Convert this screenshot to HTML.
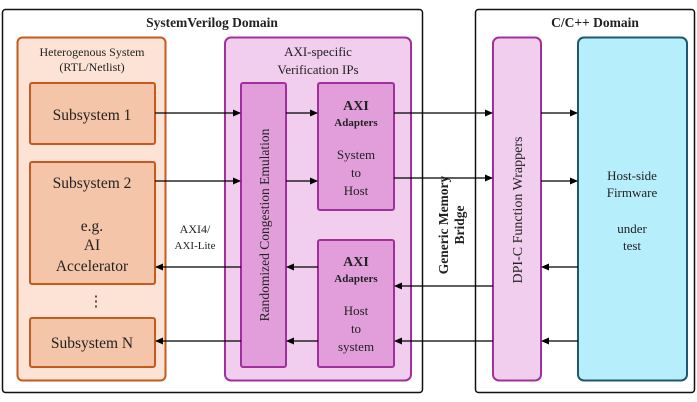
<!DOCTYPE html>
<html><head><meta charset="utf-8"><style>body{margin:0;background:#fff}svg{display:block}svg text{font-family:"Liberation Serif","DejaVu Serif",serif;fill:#222}</style></head>
<body>
<svg width="697" height="402" viewBox="0 0 697 402" xmlns="http://www.w3.org/2000/svg" font-family="Liberation Serif, DejaVu Serif, serif">
<defs><marker id="a" markerWidth="8" markerHeight="8" refX="7" refY="4" orient="auto" markerUnits="userSpaceOnUse"><path d="M0,0.5 L8,4 L0,7.5 Z" fill="#000"/></marker></defs>
<rect x="2.5" y="9.5" width="420" height="383" rx="3" fill="#fff" stroke="#111" stroke-width="1.5"/>
<rect x="475.5" y="9.5" width="219" height="383" rx="3" fill="#fff" stroke="#111" stroke-width="1.5"/>
<text x="212" y="27" font-size="13.5" font-weight="bold" text-anchor="middle">SystemVerilog Domain</text>
<text x="595" y="27" font-size="13.5" font-weight="bold" text-anchor="middle">C/C++ Domain</text>
<rect x="17.5" y="37.5" width="148" height="343" rx="5" fill="#fce3d6" stroke="#c55a1c" stroke-width="2"/>
<text x="92" y="56" font-size="12" text-anchor="middle">Heterogenous System</text>
<text x="92" y="71" font-size="12" text-anchor="middle">(RTL/Netlist)</text>
<g fill="#f5c5a9" stroke="#c55a1c" stroke-width="2">
<rect x="30" y="83" width="125" height="61" rx="2"/>
<rect x="30" y="162" width="125" height="122" rx="2"/>
<rect x="30" y="318" width="125" height="49" rx="2"/></g>
<g font-size="15.5" text-anchor="middle">
<text x="92" y="120">Subsystem 1</text>
<text x="92" y="188">Subsystem 2</text>
<text x="92" y="231">e.g.</text>
<text x="92" y="250">AI</text>
<text x="92" y="271">Accelerator</text>
<text x="92" y="348">Subsystem N</text></g>
<text x="96" y="306" font-size="15" text-anchor="middle">⋮</text>
<rect x="225" y="37.5" width="186" height="343" rx="6" fill="#f1cdee" stroke="#a2309c" stroke-width="2"/>
<text x="318" y="56" font-size="13" text-anchor="middle">AXI-specific</text>
<text x="318" y="74" font-size="13" text-anchor="middle">Verification IPs</text>
<g fill="#e29edb" stroke="#a2309c" stroke-width="2">
<rect x="241" y="83" width="45" height="284" rx="2"/>
<rect x="318" y="83" width="76" height="127" rx="2"/>
<rect x="318" y="240" width="76" height="127" rx="2"/></g>
<text transform="translate(269,225) rotate(-90)" font-size="13.5" text-anchor="middle">Randomized Congestion Emulation</text>
<g text-anchor="middle">
<text x="356" y="110" font-size="14" font-weight="bold">AXI</text>
<text x="356" y="126" font-size="11" font-weight="bold">Adapters</text>
<text x="356" y="159" font-size="13">System</text>
<text x="356" y="177" font-size="13">to</text>
<text x="356" y="195" font-size="13">Host</text>
<text x="356" y="266" font-size="14" font-weight="bold">AXI</text>
<text x="356" y="282" font-size="11" font-weight="bold">Adapters</text>
<text x="356" y="315" font-size="13">Host</text>
<text x="356" y="333" font-size="13">to</text>
<text x="356" y="351" font-size="13">system</text>
<text x="195" y="233" font-size="12">AXI4/</text>
<text x="195" y="249" font-size="11">AXI-Lite</text></g>
<rect x="493" y="37.5" width="48" height="343" rx="6" fill="#f1cdee" stroke="#a2309c" stroke-width="2"/>
<text transform="translate(522,210) rotate(-90)" font-size="14" text-anchor="middle">DPI-C Function Wrappers</text>
<rect x="578" y="37.5" width="109" height="343" rx="6" fill="#b7eefc" stroke="#1d5a70" stroke-width="2"/>
<g font-size="13" text-anchor="middle"><text x="632" y="180">Host-side</text><text x="632" y="197">Firmware</text><text x="632" y="233">under</text><text x="632" y="250">test</text></g>
<g font-size="13.5" font-weight="bold" text-anchor="middle">
<text transform="translate(448,225) rotate(-90)">Generic Memory</text>
<text transform="translate(464,225) rotate(-90)">Bridge</text></g>
<g stroke="#000" stroke-width="1.3" marker-end="url(#a)">
<line x1="155" y1="113" x2="240" y2="113"/>
<line x1="286" y1="113" x2="317" y2="113"/>
<line x1="394" y1="113" x2="492" y2="113"/>
<line x1="541" y1="113" x2="577" y2="113"/>
<line x1="155" y1="181" x2="240" y2="181"/>
<line x1="286" y1="181" x2="317" y2="181"/>
<line x1="394" y1="178" x2="492" y2="178"/>
<line x1="541" y1="181" x2="577" y2="181"/>
<line x1="578" y1="267" x2="542" y2="267"/>
<line x1="493" y1="286" x2="395" y2="286"/>
<line x1="318" y1="267" x2="287" y2="267"/>
<line x1="241" y1="267" x2="156" y2="267"/>
<line x1="578" y1="341" x2="542" y2="341"/>
<line x1="493" y1="341" x2="395" y2="341"/>
<line x1="318" y1="341" x2="287" y2="341"/>
<line x1="241" y1="341" x2="156" y2="341"/></g>
</svg>
</body></html>
